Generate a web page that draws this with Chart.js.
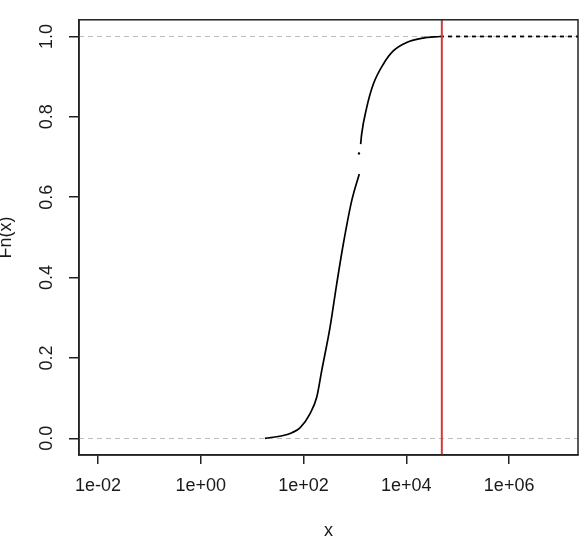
<!DOCTYPE html>
<html lang="en">
<head>
    <meta charset="UTF-8">
    <title>ECDF - Fn(x)</title>
    <script src="https://cdn.jsdelivr.net/npm/chart.js"></script>
    <style>
        html, body { margin: 0; padding: 0; background: #fff; }
        #wrap { width: 582px; height: 547px; }
    </style>
</head>
<body>
    <div id="wrap"><canvas id="ecdf"></canvas></div>
</body>

<script>
// ==================== 데이터 ====================
// 누적분포 곡선 (x, Fn(x)) - 그림에서 읽은 값 (null = 끊긴 구간)
const curveX = [17.7, 40.3, 59.4, 85.1, 133, 180, 225, 327, 441, 592, 863, 1213, null, 1291, 1349, 1690, 2270, 3556, 5559, 10140, 21330, 45080];
const curveY = [0.0, 0.007, 0.014, 0.026, 0.061, 0.102, 0.168, 0.276, 0.384, 0.483, 0.591, 0.658, null, 0.732, 0.757, 0.823, 0.881, 0.931, 0.964, 0.985, 0.996, 1.0];

// 끊긴 구간 안의 점 하나
const dotX = [1197];
const dotY = [0.709];

// 오른쪽 끝 (F = 1 구간)
const tailX = [45080, 2.2e7];
const tailY = [1.0, 1.0];

// 기준선
const hLines = [0, 1];       // 회색 점선
const vLine = 49000;         // 빨간 세로선

// 축 범위와 눈금
const xMin = Math.pow(10, -2.37);
const xMax = Math.pow(10, 7.34);
const yMin = -0.0415;
const yMax = 1.0415;
const xTickValues = [0.01, 1, 100, 1e4, 1e6];
const xTickLabels = ['1e-02', '1e+00', '1e+02', '1e+04', '1e+06'];
const yTickValues = [0, 0.2, 0.4, 0.6, 0.8, 1.0];
const yTickLabels = ['0.0', '0.2', '0.4', '0.6', '0.8', '1.0'];

function toPoints(xs, ys){
    let arr = [];
    for(let i=0; i<xs.length; i++){
        arr.push(xs[i] === null ? {x: null, y: null} : {x: xs[i], y: ys[i]});
    }
    return arr;
}

// 기준선 + 박스 그리기
const refLines = {
    id: 'refLines',
    beforeDatasetsDraw(chart){
        const {ctx, chartArea: a, scales} = chart;
        ctx.save();
        ctx.strokeStyle = '#bdbdbd';
        ctx.lineWidth = 1;
        ctx.setLineDash([5, 4]);
        hLines.forEach(v => {
            const py = Math.round(scales.y.getPixelForValue(v)) + 0.5;
            ctx.beginPath();
            ctx.moveTo(a.left, py);
            ctx.lineTo(a.right, py);
            ctx.stroke();
        });
        ctx.restore();
    },
    afterDatasetsDraw(chart){
        const {ctx, chartArea: a, scales} = chart;
        ctx.save();
        const px = scales.x.getPixelForValue(vLine);
        ctx.strokeStyle = '#d33a3a';
        ctx.lineWidth = 2;
        ctx.beginPath();
        ctx.moveTo(px, a.top);
        ctx.lineTo(px, a.bottom);
        ctx.stroke();
        ctx.strokeStyle = '#222';
        ctx.lineWidth = 1.5;
        ctx.strokeRect(a.left, a.top, a.right - a.left, a.bottom - a.top);
        ctx.restore();
    }
};

const font = {family: "'Liberation Sans', Arial, sans-serif", size: 18, lineHeight: 1.2};

new Chart(document.getElementById('ecdf'), {
    type: 'scatter',
    data: {
        datasets: [{
            data: toPoints(curveX, curveY),
            showLine: true,
            spanGaps: false,
            borderColor: '#000',
            borderWidth: 1.7,
            pointRadius: 0,
            cubicInterpolationMode: 'monotone'
        }, {
            data: toPoints(dotX, dotY),
            showLine: false,
            pointRadius: 1.2,
            pointBorderWidth: 0,
            backgroundColor: '#000'
        }, {
            data: toPoints(tailX, tailY),
            showLine: true,
            borderColor: '#000',
            borderWidth: 1.8,
            borderDash: [4, 4],
            pointRadius: 0
        }]
    },
    options: {
        responsive: true,
        maintainAspectRatio: false,
        animation: false,
        layout: {padding: {left: 0, right: 4, top: 19, bottom: 0}},
        plugins: {legend: {display: false}, tooltip: {enabled: false}},
        scales: {
            x: {
                type: 'logarithmic',
                min: xMin,
                max: xMax,
                afterBuildTicks: s => { s.ticks = xTickValues.map(v => ({value: v})); },
                afterFit: s => { s.height = 92; },
                ticks: {
                    callback: (v) => xTickLabels[xTickValues.indexOf(v)],
                    color: '#1a1a1a',
                    font: font,
                    padding: 11,
                    maxRotation: 0,
                    autoSkip: false
                },
                grid: {drawOnChartArea: false, drawTicks: true, tickLength: 9, color: '#222', lineWidth: 1.5},
                border: {display: true, color: '#222', width: 1.5},
                title: {display: true, text: 'x', color: '#1a1a1a', font: font, padding: {top: 0, bottom: 5}}
            },
            y: {
                type: 'linear',
                min: yMin,
                max: yMax,
                afterBuildTicks: s => { s.ticks = yTickValues.map(v => ({value: v})); },
                afterFit: s => { s.width = 79; },
                ticks: {
                    callback: (v) => yTickLabels[yTickValues.indexOf(v)],
                    color: '#1a1a1a',
                    font: font,
                    padding: 9,
                    minRotation: 90,
                    maxRotation: 90,
                    crossAlign: 'center',
                    autoSkip: false
                },
                grid: {drawOnChartArea: false, drawTicks: true, tickLength: 10, color: '#222', lineWidth: 1.5},
                border: {display: true, color: '#222', width: 1.5},
                title: {display: true, text: 'Fn(x)', color: '#1a1a1a', font: font, padding: {top: -5, bottom: 0}}
            }
        }
    },
    plugins: [refLines]
});
</script>
</html>
